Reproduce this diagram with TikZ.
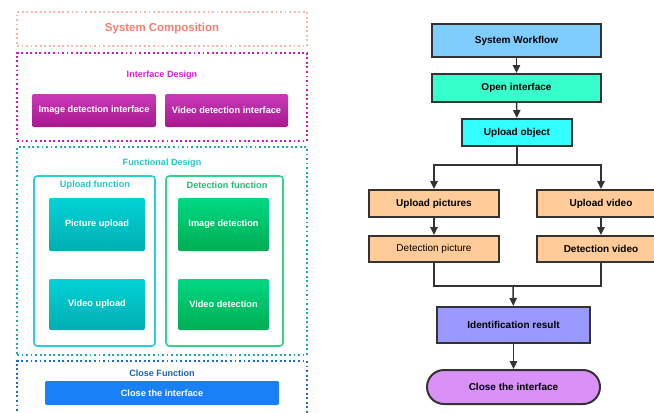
\documentclass[tikz,border=0pt]{standalone}
\usepackage{fontspec}
\setmainfont{Liberation Sans}
\usetikzlibrary{arrows.meta}

\definecolor{salmon}{HTML}{F77B6E}
\definecolor{salmonline}{HTML}{FDB3A8}
\definecolor{magline}{HTML}{C81EC0}
\definecolor{magtext}{HTML}{D81CD8}
\definecolor{magtop}{HTML}{C83AB8}
\definecolor{magbot}{HTML}{A8188E}
\definecolor{tealline}{HTML}{1BA8B0}
\definecolor{tealtext}{HTML}{1FC6CC}
\definecolor{cyanline}{HTML}{22D2D8}
\definecolor{cyantop}{HTML}{02D3D6}
\definecolor{cyanbot}{HTML}{00AEB2}
\definecolor{greenline}{HTML}{2ED68A}
\definecolor{greentext}{HTML}{18C472}
\definecolor{greentop}{HTML}{00D884}
\definecolor{greenbot}{HTML}{00AD52}
\definecolor{blueline}{HTML}{1E6CC4}
\definecolor{bluetext}{HTML}{1A62B4}
\definecolor{bluebtn}{HTML}{1A80F6}
\definecolor{edge}{HTML}{333333}
\definecolor{cWork}{HTML}{7FCCFF}
\definecolor{cOpen}{HTML}{36FFCC}
\definecolor{cUpObj}{HTML}{33FFFF}
\definecolor{cPeach}{HTML}{FFCC99}
\definecolor{cIdent}{HTML}{9999FF}
\definecolor{cClose}{HTML}{DA91F7}

\begin{document}
\begin{tikzpicture}[x=0.75pt,y=-0.75pt,
  % a node spanning the corners (x1,y1)-(x2,y2), in pixel units
  bx/.style n args={4}{at={({(#1+#3)/2},{(#2+#4)/2})},
    minimum width={(#3-#1)*0.75pt}, minimum height={(#4-#2)*0.75pt}},
  area/.style={inner sep=0pt, line width=1.2pt, dash pattern=on 1.4pt off 2pt},
  areatitle/.style={font=\fontsize{6.8}{8}\selectfont\bfseries},
  card/.style={inner sep=0pt, line width=1.2pt, rounded corners=2.5pt},
  cardtitle/.style={font=\fontsize{6.9}{8}\selectfont\bfseries},
  btn/.style={inner sep=0pt, rounded corners=1.5pt, text=white,
    font=\fontsize{6.9}{8}\selectfont\bfseries},
  magbtn/.style={btn, top color=magtop, bottom color=magbot},
  cyanbtn/.style={btn, top color=cyantop, bottom color=cyanbot},
  greenbtn/.style={btn, top color=greentop, bottom color=greenbot},
  flow/.style={inner sep=0pt, draw=edge, line width=1.5pt,
    font=\fontsize{7.5}{9}\selectfont\bfseries},
  conn/.style={draw=edge, line width=1.1pt},
  arr/.style={conn, -{Triangle[length=6pt,width=5.5pt]}}
]
\useasboundingbox (0,0) rectangle (654,412);
\clip (0,0) rectangle (654,412);

% ---------- left: system composition ----------
\node[area, draw=salmonline, bx={17}{12}{307}{46}, text=salmon,
      font=\fontsize{8.6}{10}\selectfont\bfseries] (sc) {System Composition};

% interface design
\node[area, draw=magline, bx={17}{53}{307}{141}] (idg) {};
\node[areatitle, text=magtext] (idgt) at (162,75) {Interface Design};
\node[magbtn, bx={32}{94}{156}{127}] (imgif) {Image detection interface};
\node[magbtn, bx={165}{94}{288}{127}] (vidif) {Video detection interface};

% functional design
\node[area, draw=tealline, bx={17}{147}{307}{355}] (fdg) {};
\node[areatitle, text=tealtext] (fdgt) at (162,163) {Functional Design};
\node[card, draw=cyanline, bx={34}{176}{155}{346}] (upf) {};
\node[cardtitle, text=tealtext] (upft) at (95,185) {Upload function};
\node[card, draw=greenline, bx={166}{176}{283}{346}] (def) {};
\node[cardtitle, text=greentext] (deft) at (227,185) {Detection function};
\node[cyanbtn, bx={49}{198}{145}{251}] (picup) {Picture upload};
\node[cyanbtn, bx={49}{279}{145}{330}] (vidup) {Video upload};
\node[greenbtn, bx={178}{198}{269}{251}] (imgdet) {Image detection};
\node[greenbtn, bx={178}{279}{269}{330}] (viddet) {Video detection};

% close function
\node[area, draw=blueline, bx={17}{361}{307}{422}] (cfg) {};
\node[areatitle, text=bluetext] (cfgt) at (162,373) {Close Function};
\node[btn, fill=bluebtn, rounded corners=1pt, bx={45}{381}{279}{405}] (closebtn) {Close the interface};

% ---------- right: system workflow ----------
\node[flow, fill=cWork, bx={432}{24}{601}{57}] (sw) {System Workflow};
\node[flow, fill=cOpen, bx={432}{74}{601}{102}] (oi) {Open interface};
\node[flow, fill=cUpObj, bx={462}{119}{572}{146}] (uo) {Upload object};
\node[flow, fill=cPeach, bx={369}{190}{499}{217}] (up) {Upload pictures};
\node[flow, fill=cPeach, bx={537}{190}{665}{217}] (uv) {Upload video};
\node[flow, fill=cPeach, bx={369}{236}{499}{262}, font=\fontsize{7.5}{9}\selectfont] (dp) {Detection picture};
\node[flow, fill=cPeach, bx={537}{236}{665}{262}] (dv) {Detection video};
\node[flow, fill=cIdent, bx={437}{307}{590}{343}] (ir) {Identification result};
\node[flow, fill=cClose, rounded corners=12.75pt, bx={427}{370}{600}{404}] (cl) {Close the interface};

\draw[arr] (sw) -- (oi);
\draw[arr] (oi) -- (uo);
\draw[conn] (uo.south) -- ++(0,18) coordinate (split);
\draw[arr] (split) -| (up);
\draw[arr] (split) -| (uv);
\draw[arr] (up) -- (dp);
\draw[arr] (uv) -- (dv);
\coordinate (merge) at (513,286);
\draw[conn] (dp.south) |- (merge) -| (dv.south);
\draw[arr] (merge) -- (ir);
\draw[arr] (ir) -- (cl);
\end{tikzpicture}
\end{document}
